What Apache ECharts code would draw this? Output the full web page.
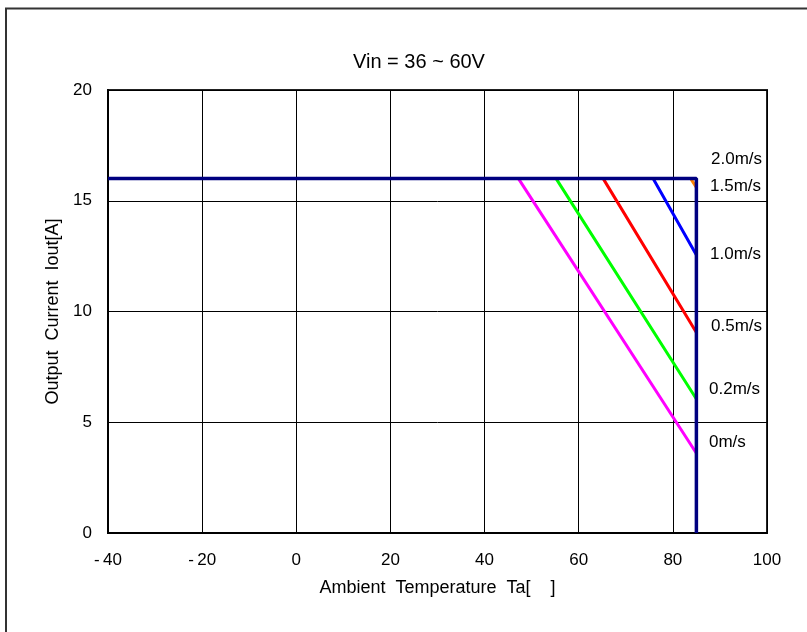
<!DOCTYPE html>
<html>
<head>
<meta charset="utf-8">
<script src="https://cdn.jsdelivr.net/npm/echarts@6/dist/echarts.min.js"></script>
<style>html,body{margin:0;padding:0;background:#fff}#c{width:807px;height:632px}</style>
</head>
<body>
<div id="c"></div>
<script>
const titleText = 'Vin = 36 ~ 60V';
const xName = 'Ambient  Temperature  Ta[    ]';
const yName = 'Output  Current  Iout[A]';
const xTickLabels = {'-40':'-\u200940','-20':'-\u200920','0':'0','20':'20','40':'40','60':'60','80':'80','100':'100'};

// derating curves: [temperature, current]
const curve0 = [[-40, 16], [47.2, 16], [85, 3.6]];
const curve02 = [[-40, 16], [55.2, 16], [85, 6.05]];
const curve05 = [[-40, 16], [65.2, 16], [85, 9.05]];
const curve10 = [[-40, 16], [75.8, 16], [85, 12.55]];
const curve20 = [[-40, 16], [83.8, 16], [85, 15.6]];
const curve15 = [[-40, 16], [85, 16], [85, 0]];

const labelNames = ['2.0m/s', '1.5m/s', '1.0m/s', '0.5m/s', '0.2m/s', '0m/s'];

const font = 'Liberation Sans, Arial, sans-serif';
const chart = echarts.init(document.getElementById('c'));

function line(name, data, color, w, z) {
  return { name, type: 'line', data, symbol: 'none', z, animation: false,
           lineStyle: { color, width: w }, itemStyle: { color } };
}

const labelPos = [[711, 160], [710, 187], [710, 255], [711, 327], [709, 390], [709, 443]];

chart.setOption({
  animation: false,
  backgroundColor: '#fff',
  title: { text: titleText, left: 348, top: 47,
           textStyle: { fontFamily: font, fontSize: 20, fontWeight: 'normal', color: '#000' } },
  grid: { left: 108, top: 90, width: 659, height: 443, show: true, borderColor: '#222', borderWidth: 2, backgroundColor: '#fff' },
  xAxis: { type: 'value', min: -40, max: 100, interval: 20,
    name: xName, nameLocation: 'middle', nameGap: 46,
    nameTextStyle: { fontFamily: font, fontSize: 18, color: '#000' },
    axisLine: { show: true, onZero: false, lineStyle: { color: '#000', width: 2 } },
    axisTick: { show: false },
    axisLabel: { margin: 19, fontFamily: font, fontSize: 17, color: '#000', formatter: v => xTickLabels[String(v)] },
    splitLine: { show: true, lineStyle: { color: '#000', width: 1 } } },
  yAxis: { type: 'value', min: 0, max: 20, interval: 5,
    name: yName, nameLocation: 'middle', nameGap: 45,
    nameTextStyle: { fontFamily: font, fontSize: 18, color: '#000' },
    axisLine: { show: true, onZero: false, lineStyle: { color: '#000', width: 2 } },
    axisTick: { show: false },
    axisLabel: { margin: 16, fontFamily: font, fontSize: 17, color: '#000' },
    splitLine: { show: true, lineStyle: { color: '#000', width: 1 } } },
  series: [
    line('0m/s', curve0, '#ff00ff', 3, 2),
    line('0.2m/s', curve02, '#00ff00', 3, 3),
    line('0.5m/s', curve05, '#ff0000', 3, 4),
    line('1.0m/s', curve10, '#0000ff', 3, 5),
    line('2.0m/s', curve20, '#ff8000', 3, 6),
    line('1.5m/s', curve15, '#000080', 3.5, 7)
  ],
  graphic: [
    { type: 'rect', shape: { x: 6, y: 8.5, width: 900, height: 900 }, style: { fill: 'none', stroke: '#333', lineWidth: 2 }, silent: true, z: 100 }
  ].concat(labelNames.map((t, i) => ({
    type: 'text', left: labelPos[i][0], top: labelPos[i][1] - 9, z: 100,
    style: { text: t, fontFamily: font, fontSize: 17, fill: '#000' }
  })))
});
</script>
</body>
</html>
